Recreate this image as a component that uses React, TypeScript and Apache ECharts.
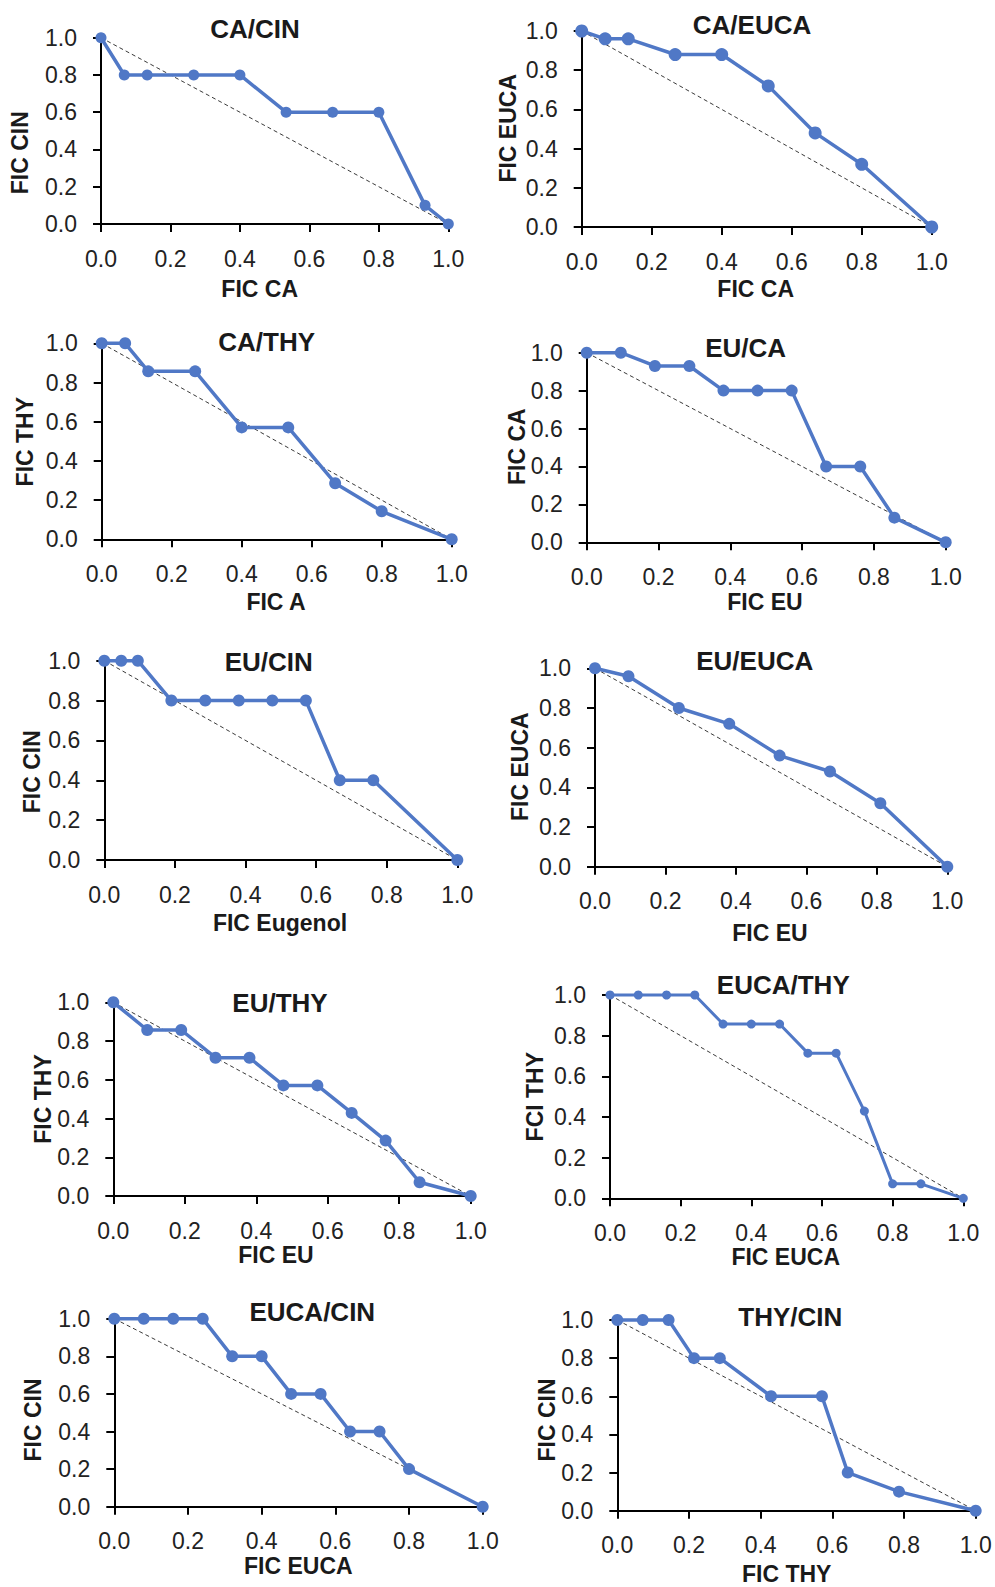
import React, { useEffect, useRef } from "react";
import * as echarts from "echarts";

// ---- Data ----
const caCinX = [0, 0.067, 0.133, 0.267, 0.4, 0.533, 0.667, 0.8, 0.933, 1];
const caCinY = [1, 0.8, 0.8, 0.8, 0.8, 0.6, 0.6, 0.6, 0.1, 0];

const caEucaX = [0, 0.067, 0.133, 0.267, 0.4, 0.533, 0.667, 0.8, 1];
const caEucaY = [1, 0.96, 0.96, 0.88, 0.88, 0.72, 0.48, 0.32, 0];

const caThyX = [0, 0.067, 0.133, 0.267, 0.4, 0.533, 0.667, 0.8, 1];
const caThyY = [1, 1, 0.857, 0.857, 0.571, 0.571, 0.286, 0.143, 0];

const euCaX = [0, 0.095, 0.19, 0.286, 0.381, 0.476, 0.571, 0.667, 0.762, 0.857, 1];
const euCaY = [1, 1, 0.93, 0.93, 0.8, 0.8, 0.8, 0.4, 0.4, 0.13, 0];

const euCinX = [0, 0.048, 0.095, 0.19, 0.286, 0.381, 0.476, 0.571, 0.667, 0.762, 1];
const euCinY = [1, 1, 1, 0.8, 0.8, 0.8, 0.8, 0.8, 0.4, 0.4, 0];

const euEucaX = [0, 0.095, 0.238, 0.381, 0.524, 0.667, 0.81, 1];
const euEucaY = [1, 0.96, 0.8, 0.72, 0.56, 0.48, 0.32, 0];

const euThyX = [0, 0.095, 0.19, 0.286, 0.381, 0.476, 0.571, 0.667, 0.762, 0.857, 1];
const euThyY = [1, 0.857, 0.857, 0.714, 0.714, 0.571, 0.571, 0.429, 0.286, 0.071, 0];

const eucaThyX = [0, 0.08, 0.16, 0.24, 0.32, 0.4, 0.48, 0.56, 0.64, 0.72, 0.8, 0.88, 1];
const eucaThyY = [1, 1, 1, 1, 0.857, 0.857, 0.857, 0.714, 0.714, 0.429, 0.071, 0.071, 0];

const eucaCinX = [0, 0.08, 0.16, 0.24, 0.32, 0.4, 0.48, 0.56, 0.64, 0.72, 0.8, 1];
const eucaCinY = [1, 1, 1, 1, 0.8, 0.8, 0.6, 0.6, 0.4, 0.4, 0.2, 0];

const thyCinX = [0, 0.071, 0.143, 0.214, 0.286, 0.429, 0.571, 0.643, 0.786, 1];
const thyCinY = [1, 1, 1, 0.8, 0.8, 0.6, 0.6, 0.2, 0.1, 0];

const additivityX = [0, 1];
const additivityY = [1, 0];

const titles = ["CA/CIN", "CA/EUCA", "CA/THY", "EU/CA", "EU/CIN", "EU/EUCA", "EU/THY", "EUCA/THY", "EUCA/CIN", "THY/CIN"];
const xNames = ["FIC CA", "FIC CA", "FIC A", "FIC EU", "FIC Eugenol", "FIC EU", "FIC EU", "FIC EUCA", "FIC EUCA", "FIC THY"];
const yNames = ["FIC CIN", "FIC EUCA", "FIC THY", "FIC CA", "FIC CIN", "FIC EUCA", "FIC THY", "FCI THY", "FIC CIN", "FIC CIN"];
const seriesX = [caCinX, caEucaX, caThyX, euCaX, euCinX, euEucaX, euThyX, eucaThyX, eucaCinX, thyCinX];
const seriesY = [caCinY, caEucaY, caThyY, euCaY, euCinY, euEucaY, euThyY, eucaThyY, eucaCinY, thyCinY];

// ---- Layout (pixels) ----
// [left, top, right, bottom] of each plot area
const plotBoxes = [
  [101, 37.7, 448.3, 224],
  [581.7, 31, 931.7, 227],
  [101.7, 343.3, 451.7, 539.3],
  [586.7, 352.7, 945.7, 542.3],
  [104.3, 660.7, 457.3, 860],
  [595, 668.3, 947.3, 866.7],
  [113.3, 1002.3, 470.7, 1196],
  [610, 995, 963.3, 1198.3],
  [114.3, 1318.7, 482.7, 1506.7],
  [617.3, 1320, 975.7, 1510.7],
];
const titlePos = [
  [255, 29], [752, 25], [266.7, 342.3], [745.7, 348.3], [268.7, 661.7],
  [754.7, 660.8], [280, 1003.3], [783.3, 985], [312.3, 1311.7], [790.3, 1317.3],
];
const xNamePos = [
  [259.7, 289], [755.7, 289], [276, 602], [765, 602], [280, 923],
  [770, 933.3], [276, 1255], [785.7, 1257], [298.3, 1566], [786.7, 1574],
];
const yNamePos = [
  [20, 152.7], [508.3, 128.3], [25, 441.7], [516.7, 446.7], [31.7, 771.7],
  [520, 766.7], [43.3, 1099], [535, 1096.7], [33.3, 1420], [546.7, 1420],
];
const markerSizes = [11, 13, 12, 12, 12, 12, 12, 9, 12, 12];
const lineWidths = [3.5, 3.5, 3.5, 3.5, 3.5, 3.5, 3.5, 3, 3.5, 3.5];

const FONT = '"Liberation Sans", Arial, sans-serif';
const BLUE = "#5078C6";
const INK = "#1a1a1a";

function buildOption() {
  const grid: any[] = [];
  const xAxis: any[] = [];
  const yAxis: any[] = [];
  const series: any[] = [];
  const graphic: any[] = [];

  plotBoxes.forEach((b, i) => {
    const [l, t, r, bt] = b;
    grid.push({ left: l, top: t, width: r - l, height: bt - t, containLabel: false });
    const axisCommon = {
      type: "value",
      min: 0,
      max: 1,
      interval: 0.2,
      gridIndex: i,
      splitLine: { show: false },
      axisLine: { show: true, onZero: false, lineStyle: { color: "#000", width: 2 } },
      axisTick: { show: true, inside: false, length: 8, lineStyle: { color: "#000", width: 2 } },
      axisLabel: {
        margin: 23,
        color: "#222",
        fontSize: 23,
        fontFamily: FONT,
        formatter: (v: number) => v.toFixed(1),
      },
    };
    xAxis.push({ ...axisCommon, position: "bottom" });
    yAxis.push({ ...axisCommon, position: "left", axisLabel: { ...axisCommon.axisLabel, margin: 24 } });

    series.push({
      type: "line",
      xAxisIndex: i,
      yAxisIndex: i,
      data: additivityX.map((x, k) => [x, additivityY[k]]),
      symbol: "none",
      lineStyle: { color: "#3a3a3a", width: 1, type: [4, 3] },
      silent: true,
      clip: false,
      z: 2,
    });
    series.push({
      type: "line",
      xAxisIndex: i,
      yAxisIndex: i,
      data: seriesX[i].map((x, k) => [x, seriesY[i][k]]),
      symbol: "circle",
      symbolSize: markerSizes[i],
      itemStyle: { color: BLUE },
      lineStyle: { color: BLUE, width: lineWidths[i] },
      clip: false,
      z: 3,
    });

    graphic.push({
      type: "text",
      x: titlePos[i][0],
      y: titlePos[i][1],
      style: {
        text: titles[i],
        font: `bold 26px ${FONT}`,
        fill: INK,
        textAlign: "center",
        textVerticalAlign: "middle",
        align: "center",
        verticalAlign: "middle",
      },
    });
    graphic.push({
      type: "text",
      x: xNamePos[i][0],
      y: xNamePos[i][1],
      style: {
        text: xNames[i],
        font: `bold 23px ${FONT}`,
        fill: INK,
        textAlign: "center",
        textVerticalAlign: "middle",
        align: "center",
        verticalAlign: "middle",
      },
    });
    graphic.push({
      type: "text",
      x: yNamePos[i][0],
      y: yNamePos[i][1],
      rotation: Math.PI / 2,
      style: {
        text: yNames[i],
        font: `bold 23px ${FONT}`,
        fill: INK,
        textAlign: "center",
        textVerticalAlign: "middle",
        align: "center",
        verticalAlign: "middle",
      },
    });
  });

  return {
    animation: false,
    backgroundColor: "#ffffff",
    grid,
    xAxis,
    yAxis,
    series,
    graphic,
  };
}

export default function App() {
  const ref = useRef<HTMLDivElement>(null);
  useEffect(() => {
    if (!ref.current) return;
    const chart = echarts.init(ref.current, undefined, { renderer: "svg" });
    chart.setOption(buildOption());
    return () => chart.dispose();
  }, []);
  return (
    <div
      ref={ref}
      style={{ position: "absolute", left: 0, top: 0, width: 995, height: 1587, background: "#fff" }}
    />
  );
}
